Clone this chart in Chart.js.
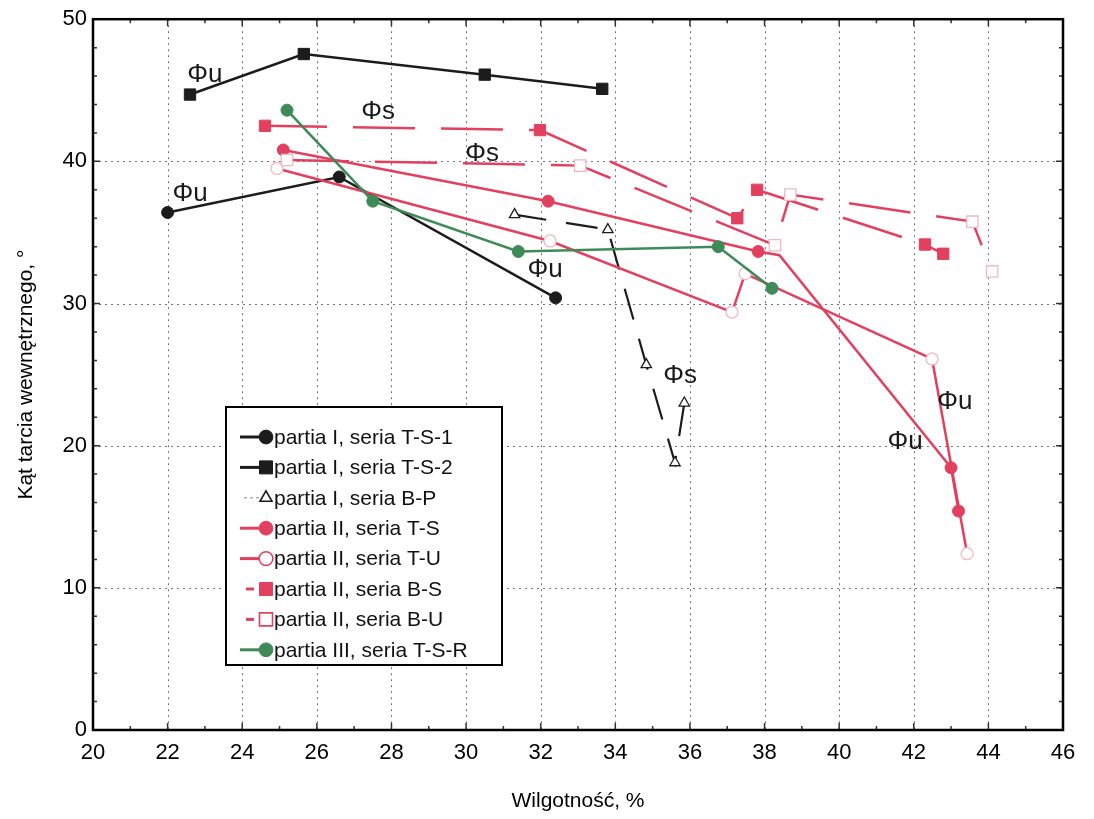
<!DOCTYPE html>
<html><head><meta charset="utf-8">
<script src="https://cdn.jsdelivr.net/npm/chart.js@4.4.0/dist/chart.umd.min.js"></script>
<style>html,body{margin:0;padding:0;background:#fff;}#wrap{position:relative;width:1094px;height:819px;}</style>
</head><body><div id="wrap"><canvas id="c" width="1094" height="819" style="width:1094px;height:819px"></canvas></div>
<script>
// ---- data ----
const ts1X = [22.0, 26.6, 32.4];
const ts1Y = [36.4, 38.9, 30.4];
const ts2X = [22.6, 25.65, 30.5, 33.65];
const ts2Y = [44.7, 47.55, 46.1, 45.1];
const bpX = [31.3, 33.8, 34.83, 35.6, 35.85];
const bpY = [36.25, 35.2, 25.7, 18.8, 23.0];
const tsX = [25.1, 32.2, 37.83, 38.4, 43.0, 43.2];
const tsY = [40.8, 37.2, 33.66, 33.4, 18.45, 15.4];
const tuX = [24.93, 32.25, 37.13, 37.48, 42.49, 43.43];
const tuY = [39.5, 34.4, 29.4, 32.1, 26.1, 12.4];
const bsX = [24.61, 31.98, 37.27, 37.8, 42.3, 42.79];
const bsY = [42.5, 42.2, 36.0, 38.0, 34.15, 33.5];
const buX = [25.2, 33.06, 38.28, 38.69, 43.57, 44.1];
const buY = [40.1, 39.7, 34.1, 37.66, 35.76, 32.26];
const tsrX = [25.2, 27.5, 31.4, 36.76, 38.2];
const tsrY = [43.6, 37.2, 33.66, 34.0, 31.07];
const seriesNames = ['partia I, seria T-S-1','partia I, seria T-S-2','partia I, seria B-P',
  'partia II, seria T-S','partia II, seria T-U','partia II, seria B-S','partia II, seria B-U',
  'partia III, seria T-S-R'];
const xTicks = [20,22,24,26,28,30,32,34,36,38,40,42,44,46];
const yTicks = [0,10,20,30,40,50];
const annText = ['Φu','Φs','Φs','Φu','Φu','Φs','Φu','Φu'];
const annX = [23.0, 27.64, 30.43, 22.6, 32.12, 35.74, 43.1, 41.77];
const annY = [46.1, 43.5, 40.5, 37.7, 32.4, 24.9, 23.1, 20.3];
const xTitle = 'Wilgotność, %';
const yTitle = 'Kąt tarcia wewnętrznego, °';

// ---- styles ----
const BLACK = '#1c1c1c', PINK = '#e3405f', GREEN = '#3e8b57';
const NARROW = "'Liberation Sans Narrow', 'Liberation Sans', Arial, sans-serif";
const SANS = "'Liberation Sans', Arial, sans-serif";
const pts = (xs, ys) => xs.map((x, i) => ({x: x, y: ys[i]}));

const styles = [
  {c: BLACK, ps: 'circle', r: 6, fill: BLACK, bc: BLACK, dash: [], w: 2.5},
  {c: BLACK, ps: 'rect', r: 8, fill: BLACK, bc: BLACK, dash: [], w: 2.5},
  {c: BLACK, ps: 'triangle', r: 6, fill: '#fff', bc: BLACK, dash: [32, 20], w: 2.2, bw: 1.3},
  {c: PINK, ps: 'circle', r: 6, fill: PINK, bc: PINK, dash: [], w: 2.5},
  {c: PINK, ps: 'circle', r: 6, fill: '#fff', bc: '#f2b7c2', dash: [], w: 2.5, bw: 1.3},
  {c: PINK, ps: 'rect', r: 8, fill: PINK, bc: PINK, dash: [62, 26], w: 2.5},
  {c: PINK, ps: 'rect', r: 8, fill: '#fff', bc: '#f2b7c2', dash: [62, 26], w: 2.5, bw: 1.3},
  {c: GREEN, ps: 'circle', r: 6, fill: GREEN, bc: GREEN, dash: [], w: 2.5}
];
const seriesData = [pts(ts1X, ts1Y), pts(ts2X, ts2Y), pts(bpX, bpY), pts(tsX, tsY),
  pts(tuX, tuY), pts(bsX, bsY), pts(buX, buY), pts(tsrX, tsrY)];

const datasets = seriesData.map((d, i) => {
  const s = styles[i];
  let radius = s.r;
  if (i === 3) radius = d.map((p, k) => (k === 3 ? 0 : s.r));
  return {
    label: seriesNames[i], data: d, showLine: true, tension: 0,
    borderColor: s.c, borderWidth: s.w, borderDash: s.dash,
    pointStyle: s.ps, pointRadius: radius, pointBackgroundColor: s.fill,
    pointBorderColor: s.bc, pointBorderWidth: s.bw || 1, order: 8 - i
  };
});

function marker(ctx, s, x, y, scale) {
  const r = s.r * scale;
  ctx.save();
  ctx.setLineDash([]);
  ctx.fillStyle = s.fill; ctx.strokeStyle = s.bc === '#f2b7c2' ? PINK : s.bc; ctx.lineWidth = s.bw ? 1.6 : 1;
  ctx.beginPath();
  if (s.ps === 'circle') ctx.arc(x, y, r, 0, Math.PI * 2);
  else if (s.ps === 'rect') { const h = r * Math.SQRT1_2; ctx.rect(x - h, y - h, 2 * h, 2 * h); }
  else if (s.ps === 'triangle') { ctx.moveTo(x, y - r); ctx.lineTo(x + r * 0.87, y + r * 0.5); ctx.lineTo(x - r * 0.87, y + r * 0.5); ctx.closePath(); }
  ctx.fill(); ctx.stroke();
  ctx.restore();
}

const decor = {
  id: 'decor',
  beforeDatasetsDraw(chart) {
    const {ctx, chartArea: a, scales: {x, y}} = chart;
    ctx.save();
    ctx.strokeStyle = 'rgba(95,70,95,0.8)'; ctx.lineWidth = 1; ctx.setLineDash([2, 4]);
    xTicks.forEach(v => { if (v > 20 && v < 46) { const px = Math.round(x.getPixelForValue(v)) + 0.5; ctx.beginPath(); ctx.moveTo(px, a.top); ctx.lineTo(px, a.bottom); ctx.stroke(); } });
    yTicks.forEach(v => { if (v > 0 && v < 50) { const py = Math.round(y.getPixelForValue(v)) + 0.5; ctx.beginPath(); ctx.moveTo(a.left, py); ctx.lineTo(a.right, py); ctx.stroke(); } });
    ctx.setLineDash([]); ctx.strokeStyle = '#333'; ctx.lineWidth = 1.5;
    for (let v = 21; v < 46; v++) {
      const px = x.getPixelForValue(v), L = v % 2 === 0 ? 7 : 4;
      ctx.beginPath(); ctx.moveTo(px, a.bottom); ctx.lineTo(px, a.bottom - L); ctx.moveTo(px, a.top); ctx.lineTo(px, a.top + L); ctx.stroke();
    }
    for (let v = 2; v < 50; v += 2) {
      const py = y.getPixelForValue(v), L = v % 10 === 0 ? 7 : 4;
      ctx.beginPath(); ctx.moveTo(a.left, py); ctx.lineTo(a.left + L, py); ctx.moveTo(a.right, py); ctx.lineTo(a.right - L, py); ctx.stroke();
    }
    ctx.restore();
  },
  afterDatasetsDraw(chart) {
    const {ctx, chartArea: a, scales: {x, y}} = chart;
    ctx.save();
    // annotations
    ctx.fillStyle = '#1a1a1a'; ctx.font = '26px ' + SANS; ctx.textAlign = 'center'; ctx.textBaseline = 'middle';
    annText.forEach((t, i) => ctx.fillText(t, x.getPixelForValue(annX[i]), y.getPixelForValue(annY[i])));
    // frame
    ctx.strokeStyle = '#000'; ctx.lineWidth = 2.5;
    ctx.strokeRect(a.left, a.top, a.right - a.left, a.bottom - a.top);
    // legend
    const L = {x: 226, y: 407, w: 276, h: 258, row0: 437, dy: 30.4};
    ctx.fillStyle = '#fff'; ctx.fillRect(L.x, L.y, L.w, L.h);
    ctx.strokeStyle = '#000'; ctx.lineWidth = 2; ctx.strokeRect(L.x, L.y, L.w, L.h);
    ctx.font = '21px ' + SANS; ctx.textAlign = 'left'; ctx.textBaseline = 'middle';
    seriesNames.forEach((n, i) => {
      const s = styles[i], ry = L.row0 + i * L.dy, mx = L.x + 40;
      ctx.save();
      ctx.strokeStyle = s.c; ctx.lineWidth = 3;
      if (i === 2) { ctx.strokeStyle = '#888'; ctx.lineWidth = 1; ctx.setLineDash([3, 3]); ctx.beginPath(); ctx.moveTo(mx - 22, ry); ctx.lineTo(mx - 7, ry); ctx.stroke(); }
      else if (i === 5 || i === 6) { ctx.beginPath(); ctx.moveTo(mx - 20, ry); ctx.lineTo(mx - 12, ry); ctx.stroke(); }
      else { ctx.beginPath(); ctx.moveTo(mx - 26, ry); ctx.lineTo(mx, ry); ctx.stroke(); }
      ctx.restore();
      marker(ctx, s, mx, ry, 1.15);
      ctx.fillStyle = '#111';
      ctx.fillText(n, L.x + 48, ry + 1);
    });
    ctx.restore();
  }
};

new Chart(document.getElementById('c'), {
  type: 'scatter',
  data: {datasets: datasets},
  options: {
    responsive: false, animation: false, events: [],
    layout: {padding: {top: 17, right: 31, left: 0, bottom: 0}},
    plugins: {legend: {display: false}, tooltip: {enabled: false}},
    scales: {
      x: {
        type: 'linear', min: 20, max: 46,
        afterBuildTicks: s => { s.ticks = xTicks.map(v => ({value: v})); },
        afterFit: s => { s.height = 89; },
        grid: {display: false, drawTicks: false, tickLength: 0}, border: {display: false},
        ticks: {color: '#000', padding: 10, font: {family: NARROW, size: 22}, maxRotation: 0, autoSkip: false},
        title: {display: true, text: xTitle, color: '#000', font: {family: NARROW, size: 21}, padding: {top: 4, bottom: 5}}
      },
      y: {
        type: 'linear', min: 0, max: 50,
        afterBuildTicks: s => { s.ticks = yTicks.map(v => ({value: v})); },
        afterFit: s => { s.width = 93; },
        grid: {display: false, drawTicks: false, tickLength: 0}, border: {display: false},
        ticks: {color: '#000', padding: 6, font: {family: NARROW, size: 22}},
        title: {display: true, text: yTitle, color: '#000', font: {family: NARROW, size: 21}, padding: {top: 14, bottom: 4}}
      }
    }
  },
  plugins: [decor]
});
</script></body></html>
